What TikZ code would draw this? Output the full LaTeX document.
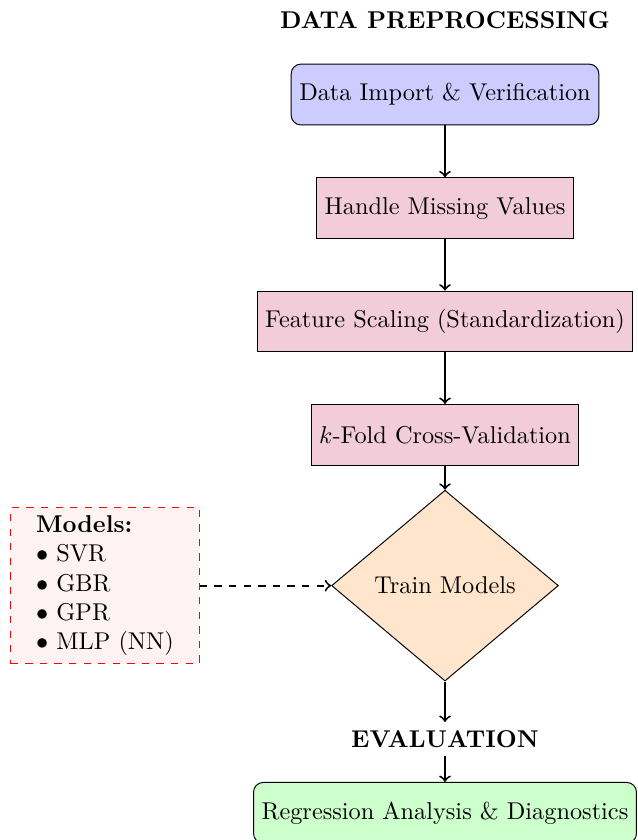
\documentclass[tikz,border=0pt]{standalone}
\usetikzlibrary{shapes.geometric}

\begin{document}
\begin{tikzpicture}[
    heading/.style={font=\bfseries},
    prepbox/.style={rectangle, draw, fill=purple!20, minimum height=0.88cm},
    endbox/.style={rectangle, rounded corners, draw, minimum height=0.88cm},
    flow/.style={->, thick}]
    \useasboundingbox (0,0) rectangle (9.213,-12.149);
    \node[heading] (prep) at (6.436,-0.285) {DATA PREPROCESSING};
    \node[endbox, fill=blue!20] (import) at (6.436,-1.367) {Data Import \& Verification};
    \node[prepbox] (missing) at (6.436,-3.011) {Handle Missing Values};
    \node[prepbox] (scaling) at (6.436,-4.650) {Feature Scaling (Standardization)};
    \node[prepbox] (kfold) at (6.436,-6.289) {$k$-Fold Cross-Validation};
    \node[diamond, draw, fill=orange!20, shape aspect=1.2, inner sep=1pt,
          minimum width=3.28cm, minimum height=2.76cm] (train) at (6.436,-8.47) {Train Models};
    \node[heading] (eval) at (6.436,-10.69) {EVALUATION};
    \node[endbox, fill=green!20] (regress) at (6.436,-11.756) {Regression Analysis \& Diagnostics};
    \node[draw=red, dashed, fill=red!5, align=left, minimum width=2.73cm, minimum height=2.23cm]
        (models) at (1.519,-8.47) {\textbf{Models:}\\ $\bullet$ SVR\\ $\bullet$ GBR\\ $\bullet$ GPR\\ $\bullet$ MLP (NN)};
    \draw[flow] (import) -- (missing);
    \draw[flow] (missing) -- (scaling);
    \draw[flow] (scaling) -- (kfold);
    \draw[flow] (kfold) -- (train);
    \draw[flow] (train) -- (eval);
    \draw[flow] (eval) -- (regress);
    \draw[flow, dashed] (models) -- (train);
\end{tikzpicture}
\end{document}
